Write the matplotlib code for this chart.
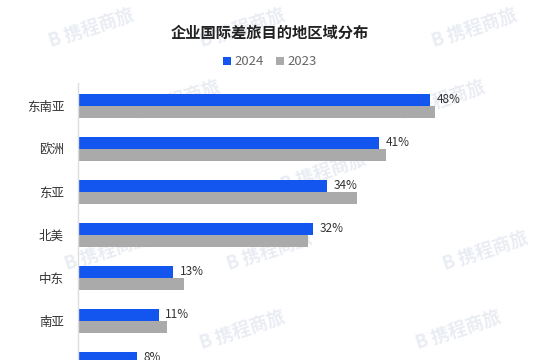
import matplotlib.pyplot as plt
import numpy as np

plt.rcParams['font.family'] = ['Noto Sans CJK SC', 'DejaVu Sans']

regions = ['东南亚', '欧洲', '东亚', '北美', '中东', '南亚', '大洋洲']
values_2024 = [48, 41, 34, 32, 13, 11, 8]
values_2023 = [48.7, 42, 38, 31.3, 14.5, 12.2, 9]
labels_2024 = ['48%', '41%', '34%', '32%', '13%', '11%', '8%']

blue = '#1356ef'
grey = '#aaaaaa'

fig = plt.figure(figsize=(5.4, 3.6), dpi=100)

# faint watermark tiles
for yy, xs in [(0.92, [0.17, 0.45, 0.88]), (0.72, [0.33, 0.82]),
               (0.52, [0.6]), (0.30, [0.2, 0.5, 0.9]),
               (0.08, [0.45, 0.85])]:
    for xx in xs:
        fig.text(xx, yy, 'B 携程商旅', fontsize=13, fontweight='bold',
                 color='#e9edf3', rotation=18,
                 ha='center', va='center', zorder=0)

ax = fig.add_axes([0.1444, -0.0708, 0.8056, 0.8403])
ax.set_zorder(2)
ax.patch.set_alpha(0)

y = np.arange(len(regions))
h = 0.29
ax.barh(y - h / 2, values_2024, height=h, color=blue, label='2024', zorder=2)
ax.barh(y + h / 2, values_2023, height=h, color=grey, label='2023', zorder=2)

for yi, v, lab in zip(y, values_2024, labels_2024):
    ax.text(v + 0.9, yi - h / 2, lab, va='center', ha='left',
            fontsize=8.5, color='#333333')

ax.set_yticks(y)
ax.set_yticklabels(regions, fontsize=9, color='#333333')
ax.get_yticklabels()[-1].set_visible(False)  # off the bottom edge in the original
ax.tick_params(axis='y', length=0, pad=10)
ax.set_xticks([])
ax.set_xlim(0, 59.3)
ax.set_ylim(6.5, -0.535)

for s in ['top', 'right', 'bottom']:
    ax.spines[s].set_visible(False)
ax.spines['left'].set_color('#dddddd')
ax.spines['left'].set_linewidth(1)

fig.text(0.5, 0.91, '企业国际差旅目的地区域分布', ha='center', va='center',
         fontsize=11, fontweight='bold', color='#222222')

fig.legend(loc='center', bbox_to_anchor=(0.5, 0.828), ncol=2, frameon=False,
           fontsize=9.5, handlelength=0.6, handleheight=0.6,
           handletextpad=0.3, columnspacing=0.9, labelcolor='#666666')

fig.savefig('out.png', dpi=100)
